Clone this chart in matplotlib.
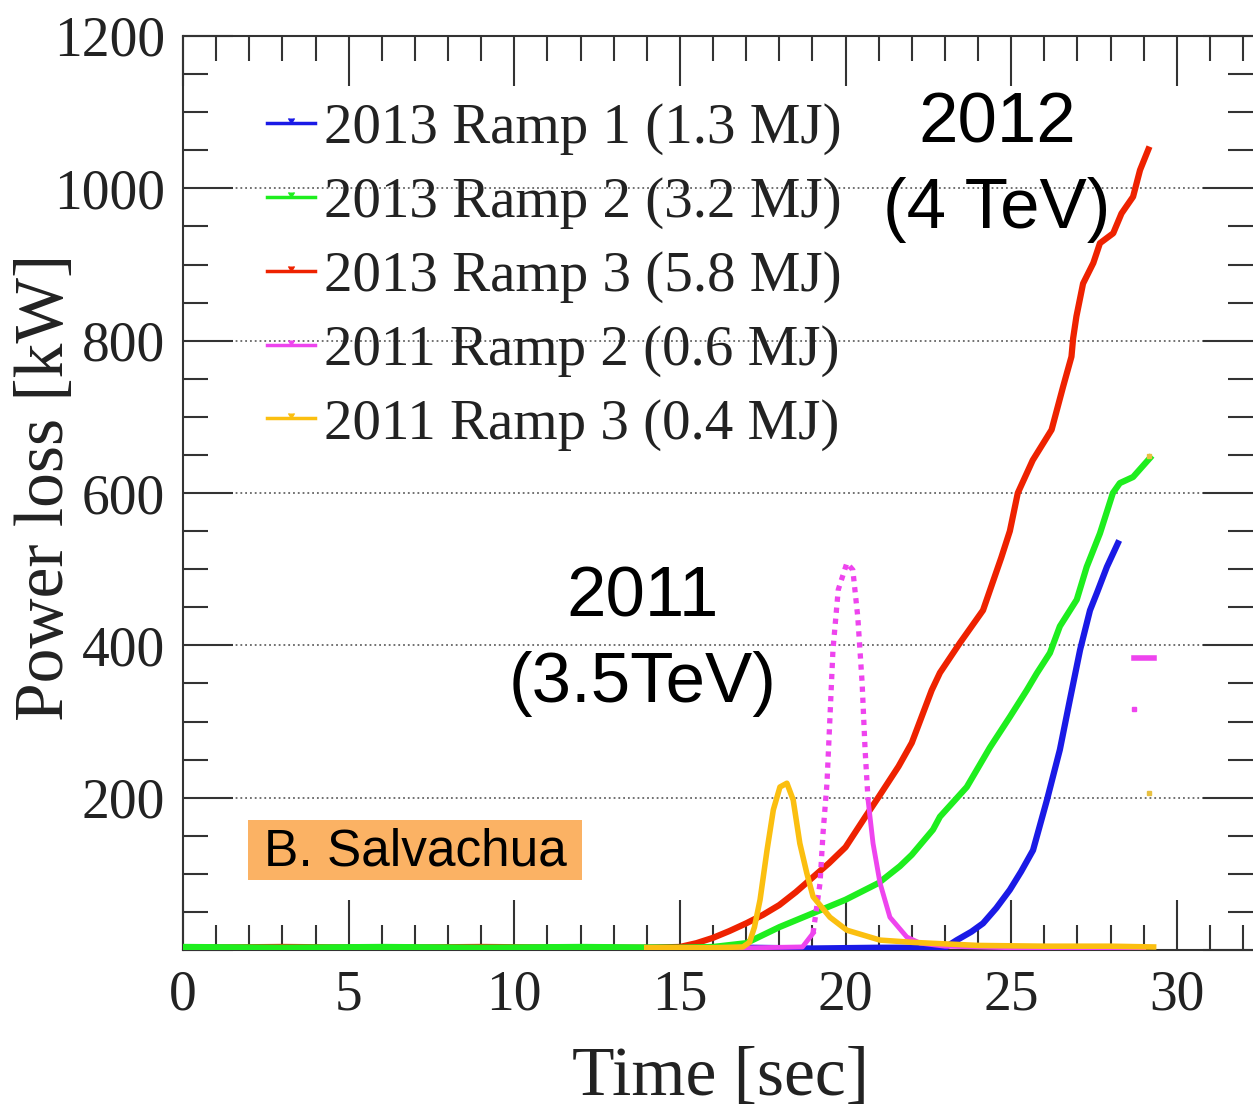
import matplotlib
matplotlib.use("Agg")
import matplotlib.pyplot as plt
from matplotlib.lines import Line2D
from matplotlib.patches import Rectangle
from matplotlib.ticker import MultipleLocator

# ---- data: time [s], power loss [kW] ----
t_r1 = [0, 3, 6, 9, 12, 15, 17, 19, 21, 23.0, 23.36, 23.8, 24.15, 24.55, 24.96,
        25.3, 25.66, 26.08, 26.47, 26.77, 27.08, 27.38, 27.59, 27.89, 28.22]
p_r1 = [3, 2, 3, 2, 3, 2, 3, 2, 3, 3, 13, 24, 35, 55, 79,
        103, 131, 197, 263, 328, 394, 446, 469, 503, 534]

t_r2 = [0, 3, 6, 9, 12, 15, 16, 17, 18, 19, 20, 21, 21.64, 22.0, 22.64, 22.85,
        23.66, 24.36, 24.96, 25.47, 25.77, 26.17, 26.47, 26.98, 27.28, 27.68,
        28.07, 28.28, 28.68, 29.19]
p_r2 = [4, 3, 4, 3, 4, 3, 4, 9, 30, 48, 66, 88, 110, 125, 158, 175,
        214, 266, 306, 341, 363, 390, 425, 460, 503, 547,
        600, 613, 621, 646]

t_r3 = [0, 3, 6, 9, 12, 14, 15, 15.5, 16, 16.5, 17, 17.5, 18, 18.5, 19, 19.5,
        20, 20.6, 21.0, 21.6, 22.0, 22.6, 22.85, 23.45, 24.15, 24.7, 24.96,
        25.2, 25.65, 26.22, 26.57, 26.82, 26.87, 26.97, 27.17, 27.48, 27.68,
        28.08, 28.33, 28.68, 28.89, 29.14]
p_r3 = [3, 4, 3, 4, 3, 3, 4, 9, 16, 25, 35, 46, 59, 76, 95, 114,
        135, 175, 201, 241, 272, 341, 364, 403, 446, 515, 550,
        600, 643, 683, 740, 779, 803, 832, 875, 902, 928,
        941, 967, 989, 1024, 1051]

t_m = [14, 16, 18.7, 19.02, 19.23, 19.32, 19.44, 19.53, 19.62, 19.78, 20.04,
       20.22, 20.37, 20.5, 20.59, 20.68, 20.83, 21.04, 21.34, 21.85, 22.25,
       23, 25, 27, 29.0]
p_m = [2, 2, 4, 22, 88, 153, 219, 306, 394, 473, 508,
       499, 437, 351, 263, 197, 140, 88, 43, 17, 9,
       5, 3, 3, 3]

t_y = [14, 16, 16.9, 17.1, 17.25, 17.42, 17.63, 17.82, 18.02, 18.23, 18.42,
       18.62, 18.83, 19.02, 19.53, 20.04, 21.04, 22.04, 24, 26, 28, 29.3]
p_y = [3, 3, 4, 10, 30, 66, 131, 184, 214, 219, 197,
       140, 101, 70, 43, 26, 13, 10, 6, 5, 5, 4]

# stray points at the right end
stray_m_t = [28.7, 29.3]
stray_m_p = [383, 383]
stray_m2_t = [28.7]
stray_m2_p = [316]
stray_y_t = [29.16, 29.16]
stray_y_p = [649, 206]

labels = ["2013 Ramp 1 (1.3 MJ)", "2013 Ramp 2 (3.2 MJ)", "2013 Ramp 3 (5.8 MJ)",
          "2011 Ramp 2 (0.6 MJ)", "2011 Ramp 3 (0.4 MJ)"]
colors = ["#1a1ae6", "#1eee1e", "#ee2200", "#ee44ee", "#fbbf10"]

#%%

W, H = 1253, 1109
x0, x1, y0, y1 = 183, 1253, 950, 36   # axes box in pixels


def ax_frac(px, py):
    return (px - x0) / (x1 - x0), (y0 - py) / (y0 - y1)


fig = plt.figure(figsize=(W/100, H/100), dpi=100)
ax = fig.add_axes([x0/W, 1-y0/H, (x1-x0)/W, (y0-y1)/H])

serif = "Liberation Serif"
sans = "Liberation Sans"

ax.plot(t_r3, p_r3, color=colors[2], lw=4.5, zorder=3)
ax.plot(t_r1, p_r1, color=colors[0], lw=4.5, zorder=3)
ax.plot(t_r2, p_r2, color=colors[1], lw=4.5, zorder=4)

# magenta: solid base, dotted steep part, solid tail
ax.plot(t_m[:4], p_m[:4], color=colors[3], lw=3.5, zorder=5)
ax.plot(t_m[3:16], p_m[3:16], color=colors[3], lw=3.8,
        linestyle=(0, (1, 1.1)), zorder=5)
ax.plot(t_m[15:], p_m[15:], color=colors[3], lw=3.5, zorder=5)
ax.plot(t_y, p_y, color=colors[4], lw=4, zorder=6)

ax.plot(stray_m_t, stray_m_p, color=colors[3], lw=4, zorder=5)
ax.plot(stray_m2_t, stray_m2_p, "s", color=colors[3], ms=3, zorder=5)
ax.plot(stray_y_t, stray_y_p, "s", color="#e8c040", ms=3, zorder=5)

ax.set_xlim(0, 32.3)
ax.set_ylim(0, 1200)
ax.set_xticks(range(0, 31, 5))
ax.xaxis.set_minor_locator(MultipleLocator(1))
ax.set_yticks(range(0, 1201, 200))
ax.set_yticklabels([""] + [str(v) for v in range(200, 1201, 200)])
ax.yaxis.set_minor_locator(MultipleLocator(50))

ax.tick_params(which="both", direction="in", top=True, right=True,
               color="#333333", width=1.5)
ax.tick_params(which="major", length=36)
ax.tick_params(which="minor", length=18)
ax.tick_params(axis="x", which="major", pad=14)
ax.tick_params(axis="y", which="major", pad=13)
for lab in ax.get_xticklabels() + ax.get_yticklabels():
    lab.set_fontfamily(serif)
    lab.set_fontsize(40)
    lab.set_color("#222222")
for s in ax.spines.values():
    s.set_color("#333333")
    s.set_linewidth(1.5)
ax.spines["right"].set_visible(False)

ax.yaxis.grid(True, linestyle=":", color="#666666", lw=1.3)
ax.set_axisbelow(True)

ax.set_xlabel("Time [sec]", fontfamily=serif, fontsize=50, color="#222222")
ax.xaxis.set_label_coords(*ax_frac(720, 1078))
ax.xaxis.label.set_va("center")
ax.set_ylabel("Power loss [kW]", fontfamily=serif, fontsize=50, color="#222222")
ax.yaxis.set_label_coords(*ax_frac(46, 487))
ax.yaxis.label.set_va("center")

handles = [Line2D([0], [0], color=c, lw=2.5, marker=7, ms=5) for c in colors]
leg = ax.legend(handles, labels, loc="upper left", frameon=False,
                bbox_to_anchor=ax_frac(267, 103),
                prop={"family": serif, "size": 41},
                handlelength=0.85, handletextpad=0.15, labelspacing=0.38,
                borderpad=0, borderaxespad=0)
for txt in leg.get_texts():
    txt.set_color("#222222")

ax.text(*ax_frac(997, 167), "2012\n(4 TeV)", transform=ax.transAxes,
        fontfamily=sans, fontsize=51, ha="center", va="center", linespacing=1.38)
ax.text(*ax_frac(643, 641), "2011\n(3.5TeV)", transform=ax.transAxes,
        fontfamily=sans, fontsize=51, ha="center", va="center", linespacing=1.38)

bx, by = ax_frac(248, 880)
ax.add_patch(Rectangle((bx, by), 334/(x1-x0), 60/(y0-y1), transform=ax.transAxes,
                       facecolor="#fbb264", edgecolor="none", zorder=7))
ax.text(*ax_frac(415, 852), "B. Salvachua", transform=ax.transAxes,
        fontfamily=sans, fontsize=37, ha="center", va="center", zorder=8)

fig.savefig("out.png", dpi=100)
